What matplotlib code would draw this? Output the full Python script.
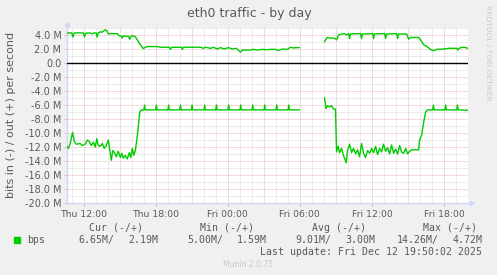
import numpy as np
import matplotlib
matplotlib.use("Agg")
import matplotlib.pyplot as plt

# ---------------- data (hours since Thu 00:00, values in Mbit/s) ----------------
out_hours = [10.62, 10.73, 11.02, 11.12, 11.23, 11.98, 12.08, 12.18, 12.56, 12.72, 12.89,
             13.06, 13.12, 13.23, 13.39, 13.56, 13.77, 13.93, 14.06, 14.39, 14.81, 14.93,
             15.14, 15.22, 15.31, 15.56, 15.72, 15.85, 15.97, 16.14, 16.31, 16.48, 16.64,
             16.81, 16.97, 17.14, 17.31, 18.14, 18.39, 19.14, 19.22, 19.35, 20.14, 20.22,
             20.31, 21.72, 21.98, 22.14, 22.56, 22.81, 23.14, 23.39, 23.72, 24.06, 24.39,
             24.72, 25.06, 25.22, 25.89, 26.14, 26.47, 26.89, 27.22, 27.56, 27.97, 28.22,
             28.56, 28.97, 29.22, 29.47, 29.72, 29.97,
             31.0,
             32.06, 32.27, 32.56, 32.89, 33.06, 33.22, 33.39, 33.72, 33.89, 34.06, 34.14,
             34.22, 35.06, 35.14, 35.22, 36.06, 36.14, 36.22, 37.06, 37.14, 37.22, 38.06,
             38.14, 38.22, 38.89, 39.06, 39.22, 39.89, 40.06, 40.31, 40.64, 40.89, 41.14,
             41.39, 42.06, 42.39, 43.06, 43.14, 43.31, 43.56, 43.81, 43.97]
out_values = [4.24, 4.30, 4.30, 3.70, 4.30, 4.30, 3.75, 4.25, 4.30, 4.15, 4.30,
              4.30, 3.70, 4.30, 4.45, 4.40, 4.72, 4.65, 4.15, 4.20, 4.20, 3.90,
              3.85, 3.55, 3.90, 3.80, 3.85, 3.40, 3.90, 3.85, 3.75, 3.30, 2.80,
              2.40, 2.05, 2.25, 2.35, 2.35, 2.25, 2.25, 1.95, 2.25, 2.25, 1.95,
              2.25, 2.25, 2.10, 2.25, 2.10, 2.25, 2.00, 2.20, 2.00, 2.20, 2.00,
              2.10, 1.55, 1.85, 1.85, 1.95, 1.85, 1.95, 1.90, 1.95, 1.95, 1.80,
              2.00, 1.95, 2.25, 2.15, 2.20, 2.20,
              np.nan,
              3.05, 3.65, 3.55, 3.55, 3.30, 4.00, 4.10, 4.20, 4.00, 4.20, 3.50,
              4.15, 4.20, 3.50, 4.15, 4.20, 3.50, 4.15, 4.20, 3.50, 4.15, 4.20,
              3.50, 4.15, 4.15, 3.40, 3.65, 3.65, 3.30, 2.60, 2.30, 1.90, 1.75,
              1.95, 2.00, 2.10, 2.10, 1.85, 2.15, 2.25, 2.20, 2.10]

in_hours = [10.62, 10.73, 10.89, 11.08, 11.23, 11.39, 11.72, 11.89, 12.14, 12.31, 12.47,
            12.64, 12.81, 12.97, 13.10, 13.22, 13.39, 13.56, 13.72, 13.89, 14.06, 14.22,
            14.31, 14.43, 14.56, 14.72, 14.89, 15.06, 15.18, 15.31, 15.47, 15.64, 15.81,
            15.93, 16.06, 16.18, 16.31, 16.43, 16.56, 16.68, 16.81,
            17.02, 17.08, 17.14, 18.00, 18.06, 18.12, 19.02, 19.08, 19.14, 20.00, 20.06,
            20.12, 20.97, 21.03, 21.09, 22.02, 22.08, 22.14, 23.00, 23.06, 23.12, 24.02,
            24.08, 24.14, 25.02, 25.08, 25.14, 26.02, 26.08, 26.14, 27.02, 27.08, 27.14,
            28.02, 28.08, 28.14, 29.02, 29.08, 29.14, 29.97,
            31.0,
            32.06, 32.18, 32.31, 32.47, 32.64, 32.81, 32.97, 33.06, 33.18, 33.31, 33.47,
            33.64, 33.86, 33.97, 34.14, 34.31, 34.47, 34.64, 34.81, 34.97, 35.14, 35.31,
            35.47, 35.64, 35.81, 35.97, 36.14, 36.31, 36.47, 36.64, 36.81, 36.97, 37.14,
            37.31, 37.47, 37.64, 37.81, 37.97, 38.14, 38.31, 38.47, 38.64, 38.81, 38.97,
            39.14, 39.31, 39.89, 39.97, 40.14, 40.31, 40.47, 40.64, 41.06, 41.12, 41.18,
            42.08, 42.14, 42.20, 43.06, 43.12, 43.18, 43.97]
in_values = [-11.95, -12.20, -11.50, -9.90, -11.20, -11.60, -11.50, -11.80, -11.60, -11.00, -11.20,
             -11.80, -11.30, -12.00, -10.80, -11.80, -11.90, -11.50, -12.20, -11.80, -11.00, -12.90,
             -13.90, -12.50, -12.80, -13.40, -12.60, -13.50, -12.90, -13.60, -13.20, -13.70, -12.80,
             -13.50, -12.20, -13.20, -12.50, -11.00, -9.00, -7.00, -6.70,
             -6.70, -6.00, -6.70, -6.70, -6.00, -6.70, -6.70, -6.00, -6.70, -6.70, -6.00,
             -6.70, -6.70, -6.00, -6.70, -6.70, -6.00, -6.70, -6.70, -6.00, -6.70, -6.70,
             -6.00, -6.70, -6.70, -6.00, -6.70, -6.70, -6.00, -6.70, -6.70, -6.00, -6.70,
             -6.70, -6.00, -6.70, -6.70, -6.00, -6.70, -6.70,
             np.nan,
             -5.00, -6.50, -6.10, -6.30, -6.10, -6.60, -6.60, -12.70, -11.90, -12.80, -12.20,
             -13.20, -14.26, -12.50, -11.60, -12.80, -12.20, -13.00, -12.40, -13.40, -11.50, -12.90,
             -13.50, -12.50, -12.90, -12.20, -12.80, -11.90, -13.10, -12.20, -12.70, -11.60, -12.60,
             -12.10, -13.00, -11.70, -12.90, -12.30, -13.00, -11.80, -12.70, -12.90, -12.20, -13.00,
             -12.60, -12.40, -12.40, -11.00, -10.30, -8.50, -7.00, -6.70, -6.70, -6.00, -6.70,
             -6.70, -6.00, -6.70, -6.70, -6.00, -6.70, -6.75]

x_tick_hours = [12, 18, 24, 30, 36, 42]
x_tick_labels = ["Thu 12:00", "Thu 18:00", "Fri 00:00", "Fri 06:00", "Fri 12:00", "Fri 18:00"]
y_tick_values = [4, 2, 0, -2, -4, -6, -8, -10, -12, -14, -16, -18, -20]
y_tick_labels = ["4.0 M", "2.0 M", "0.0", "-2.0 M", "-4.0 M", "-6.0 M", "-8.0 M", "-10.0 M",
                 "-12.0 M", "-14.0 M", "-16.0 M", "-18.0 M", "-20.0 M"]

legend_headers = ["Cur (-/+)", "Min (-/+)", "Avg (-/+)", "Max (-/+)"]
legend_in = ["6.65M/", "5.00M/", "9.01M/", "14.26M/"]
legend_out = ["2.19M", "1.59M", "3.00M", "4.72M"]
series_name = "bps"
last_update = "Last update: Fri Dec 12 19:50:02 2025"

# ---------------- figure ----------------
W, H = 497, 275
BG = "#F0F0F0"
FONT = "#5a5a5a"
GREEN = "#00CC00"
AXIS = "#CFD6F8"

fig = plt.figure(figsize=(W / 100, H / 100), dpi=100, facecolor=BG)

def fx(px):
    return px / W

def fy(py):
    return 1 - py / H

L, R, T, B = 67, 468, 28, 203
ax = fig.add_axes([fx(L), fy(B), fx(R) - fx(L), fy(T) - fy(B)])
ax.set_facecolor("white")
ax.set_xlim(10.62, 44.0)
ax.set_ylim(-20, 5)

# grid
minor_c = "#dadada"
major_c = "#ebb6b6"
dot = (0, (1, 1))
for h in range(11, 44):
    if h % 3 != 0:
        ax.axvline(h, color=minor_c, lw=0.72, ls=dot, zorder=1)
for v in range(-19, 6, 2):
    ax.axhline(v, color=minor_c, lw=0.72, ls=dot, zorder=1)
for h in range(12, 44, 3):
    ax.axvline(h, color=major_c, lw=0.72, ls=dot, zorder=2)
for v in range(-20, 5, 2):
    ax.axhline(v, color=major_c, lw=0.72, ls=dot, zorder=2)

ax.axhline(0, color="black", lw=1.0, zorder=3)

ax.plot(out_hours, out_values, color=GREEN, lw=1.0, zorder=4)
ax.plot(in_hours, in_values, color=GREEN, lw=1.0, zorder=4)

for s in ["top", "right"]:
    ax.spines[s].set_visible(False)
for s in ["left", "bottom"]:
    ax.spines[s].set_color(AXIS)
    ax.spines[s].set_linewidth(1.0)

ax.set_xticks(x_tick_hours)
ax.set_xticklabels(x_tick_labels)
ax.set_yticks(y_tick_values)
ax.set_yticklabels(y_tick_labels)
ax.tick_params(axis="x", length=2, color=major_c, labelsize=6.7, labelcolor=FONT, pad=3)
ax.tick_params(axis="y", length=2, color=major_c, labelsize=7, labelcolor=FONT, pad=2)

# arrows
ax.plot([0], [1.025], marker="^", color=AXIS, ms=3, transform=ax.transAxes, clip_on=False)
ax.plot([1.01], [0], marker=">", color=AXIS, ms=3, transform=ax.transAxes, clip_on=False)

# texts
fig.text(fx(249), fy(14), "eth0 traffic - by day", ha="center", va="center", fontsize=9, color=FONT)
fig.text(fx(11), fy(115), "bits in (-) / out (+) per second", rotation=90, ha="center",
         va="center", fontsize=8, color=FONT)
fig.text(fx(488), fy(53), "RRDTOOL / TOBI OETIKER", rotation=270, ha="center", va="center",
         fontsize=5.4, color="#c8c8c8")

mono = "DejaVu Sans Mono"
lfs = 7.1
for x, s in zip([89, 200, 312, 423], legend_headers):
    fig.text(fx(x), fy(228), s, family=mono, fontsize=lfs, color=FONT, va="center", ha="left")
fig.patches.append(matplotlib.patches.Rectangle((fx(14), fy(242.5)), fx(6), 6 / H,
                                                transform=fig.transFigure, color=GREEN))
fig.text(fx(27), fy(240), series_name, family=mono, fontsize=lfs, color=FONT, va="center", ha="left")
for x, s in zip([78, 187, 295, 397], legend_in):
    fig.text(fx(x), fy(240), s, family=mono, fontsize=lfs, color=FONT, va="center", ha="left")
for x, s in zip([158, 267, 375, 483], legend_out):
    fig.text(fx(x), fy(240), s, family=mono, fontsize=lfs, color=FONT, va="center", ha="right")
fig.text(fx(482), fy(252), last_update, family=mono, fontsize=lfs, color=FONT, va="center", ha="right")
fig.text(fx(248), fy(264.5), "Munin 2.0.75", ha="center", va="center", fontsize=5.5, color="#c8c8c8")

fig.savefig("out.png", dpi=100, facecolor=BG)
